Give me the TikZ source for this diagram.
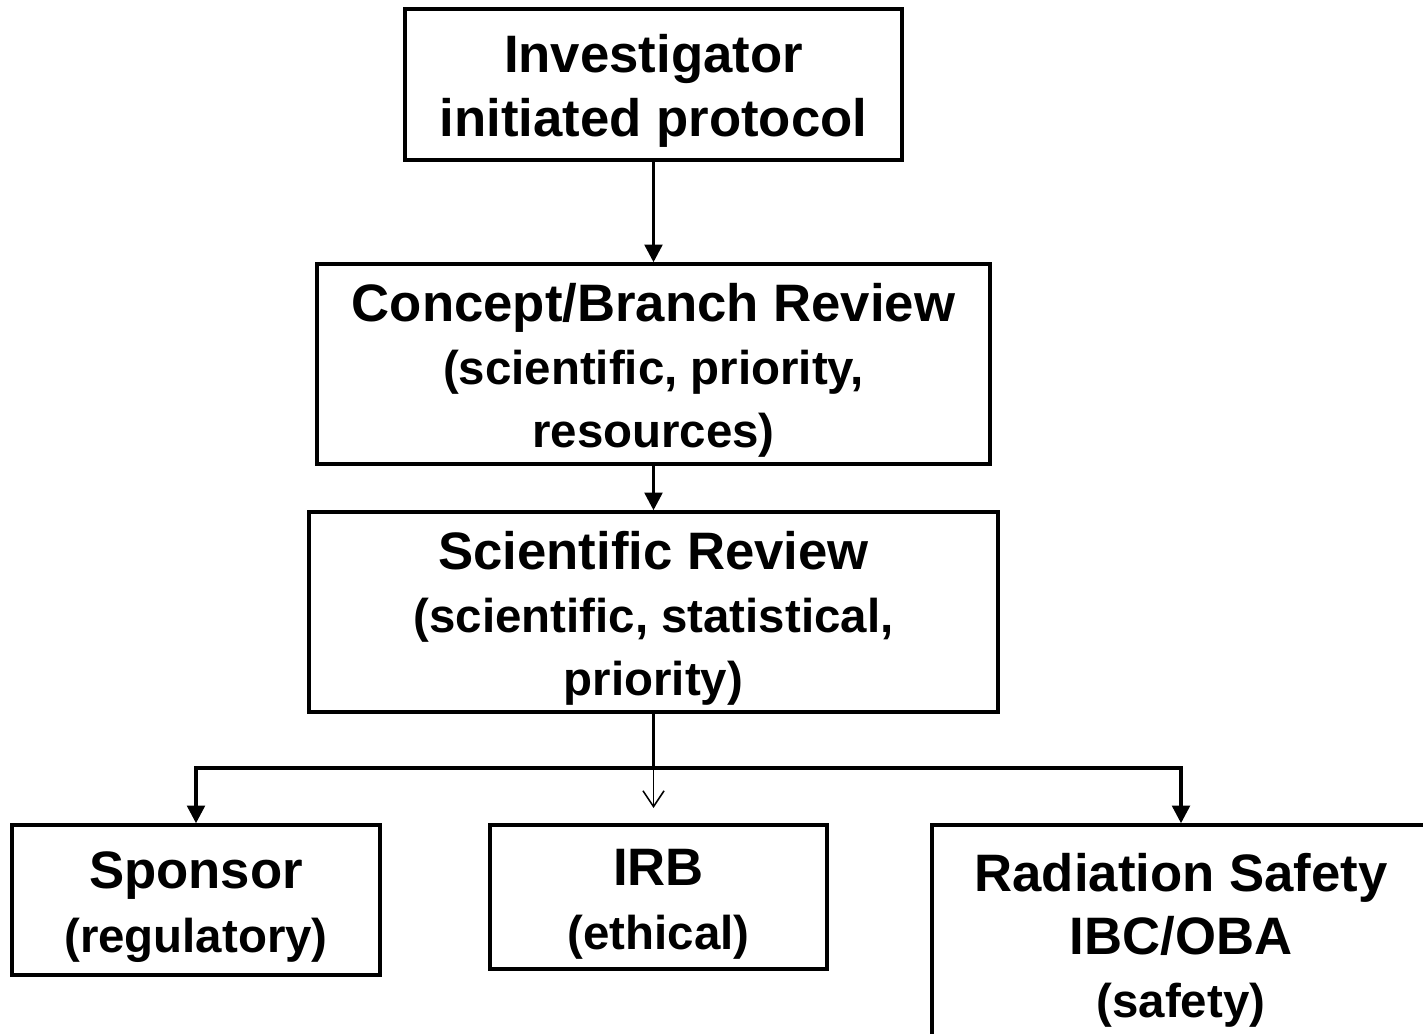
\documentclass[tikz,border=0pt]{standalone}
\usepackage{fontspec}
\setmainfont{Liberation Sans}
\usetikzlibrary{arrows.meta}
\newcommand{\hdline}[1]{{\fontsize{30}{36}\selectfont\rule{0pt}{29pt}#1}}
\tikzset{
  revbox/.style={draw, line width=2pt, align=center, inner sep=0pt,
    font=\bfseries\fontsize{27}{36}\selectfont},
  flow/.style={line width=1.9pt, -{Triangle[length=10pt,width=10pt]}},
  thinflow/.style={line width=0.9pt, -{Straight Barb[length=9pt,width=12pt]}},
}
\begin{document}
\begin{tikzpicture}[x=0.02cm, y=-0.02cm]
    \useasboundingbox (0,0) rectangle (1423,1034);

    \node (inv) at (653.5,84.5) [revbox, minimum width=9.94cm, minimum height=3.02cm]
        {\hdline{Investigator}\\\hdline{initiated protocol}};
    \node (concept) at (653.5,364) [revbox, minimum width=13.46cm, minimum height=4cm]
        {\hdline{Concept/Branch Review}\\(scientific, priority,\\resources)};
    \node (sci) at (653.5,612) [revbox, minimum width=13.78cm, minimum height=4cm]
        {\hdline{Scientific Review}\\(scientific, statistical,\\priority)};
    \node (sponsor) at (196,900) [revbox, minimum width=7.36cm, minimum height=3cm]
        {\hdline{Sponsor}\\(regulatory)};
    \node (irb) at (658.5,897) [revbox, minimum width=6.74cm, minimum height=2.88cm]
        {\hdline{IRB}\\(ethical)};
    \node (rad) at (1181,934) [revbox, minimum width=9.96cm, minimum height=4.36cm]
        {\hdline{Radiation Safety}\\\hdline{IBC/OBA}\\(safety)};

    \coordinate (split) at (653.5,768);
    \coordinate (irbtip) at (653.5,808);

    \draw[flow] (inv) -- (concept);
    \draw[flow] (concept) -- (sci);
    \draw[line width=1.9pt] (sci) -- (split);
    \draw[flow] (split) -| (sponsor);
    \draw[flow] (split) -| (rad);
    \draw[thinflow] (split) -- (irbtip);
\end{tikzpicture}
\end{document}
